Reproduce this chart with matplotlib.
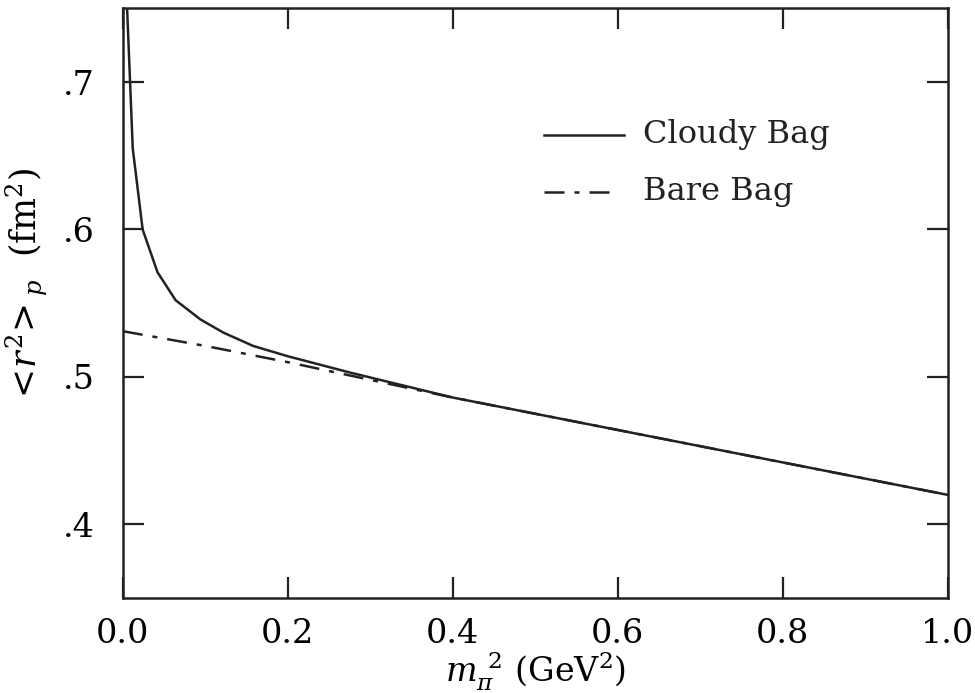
import matplotlib
matplotlib.use("Agg")
import matplotlib.pyplot as plt

# Proton mean-square charge radius vs. pion mass squared
m_pi2_cloudy = [0.005, 0.012, 0.024, 0.042, 0.064, 0.094, 0.122, 0.158, 0.200,
                0.275, 0.400, 0.500, 0.600, 0.700, 0.800, 0.900, 1.000]
r2_cloudy = [0.752, 0.655, 0.600, 0.571, 0.552, 0.539, 0.530, 0.521, 0.514,
             0.503, 0.486, 0.475, 0.464, 0.453, 0.442, 0.431, 0.420]

m_pi2_bare = [0.000, 0.100, 0.200, 0.300, 0.400, 0.500, 0.600, 0.700, 0.800, 0.900, 1.000]
r2_bare = [0.531, 0.521, 0.510, 0.498, 0.486, 0.475, 0.464, 0.453, 0.442, 0.431, 0.420]

x_ticks = [0.0, 0.2, 0.4, 0.6, 0.8, 1.0]
x_tick_labels = ["0.0", "0.2", "0.4", "0.6", "0.8", "1.0"]
y_ticks = [0.4, 0.5, 0.6, 0.7]
y_tick_labels = [".4", ".5", ".6", ".7"]

legend_labels = ["Cloudy Bag", "Bare Bag"]

plt.rcParams["font.family"] = ["DejaVu Serif"]
plt.rcParams["mathtext.fontset"] = "dejavuserif"

fig = plt.figure(figsize=(9.75, 6.93), dpi=100)
ax = fig.add_axes([0.126, 0.137, 0.846, 0.851])

lw = 1.8
dashdot = (0, (8, 4, 2, 4))
ink = "#222222"

ax.plot(m_pi2_cloudy, r2_cloudy, color=ink, lw=lw, solid_joinstyle="miter")
ax.plot(m_pi2_bare, r2_bare, color=ink, lw=lw, linestyle=dashdot)

ax.set_xlim(0.0, 1.0)
ax.set_ylim(0.35, 0.75)
ax.set_xticks(x_ticks)
ax.set_xticklabels(x_tick_labels)
ax.set_yticks(y_ticks)
ax.set_yticklabels(y_tick_labels)

ax.tick_params(direction="in", length=15, width=1.6, color=ink,
               top=True, right=True, labelsize=24)
ax.tick_params(axis="x", pad=14)
ax.tick_params(axis="y", pad=20)
for s in ax.spines.values():
    s.set_linewidth(1.8)
    s.set_color(ink)

ax.set_xlabel(r"$m_{\pi}^{\;\,2}$ (GeV$^2$)", fontsize=24, labelpad=0)
ax.set_ylabel(r"$<\!r^2\!>_p$  (fm$^2$)", fontsize=25)
ax.yaxis.set_label_coords(-0.088, 0.53)

# Legend drawn as short line samples with labels beside them
rows = [(0.786, "-", legend_labels[0], 0.607),
        (0.689, dashdot, legend_labels[1], 0.593)]
for y, ls, label, x_end in rows:
    ax.plot([0.510, x_end], [y, y], transform=ax.transAxes,
            color=ink, lw=lw, linestyle=ls)
    ax.text(0.630, y, label, transform=ax.transAxes, fontsize=23,
            va="center", ha="left", color=ink)

fig.savefig("out.png", dpi=100, facecolor="white")
